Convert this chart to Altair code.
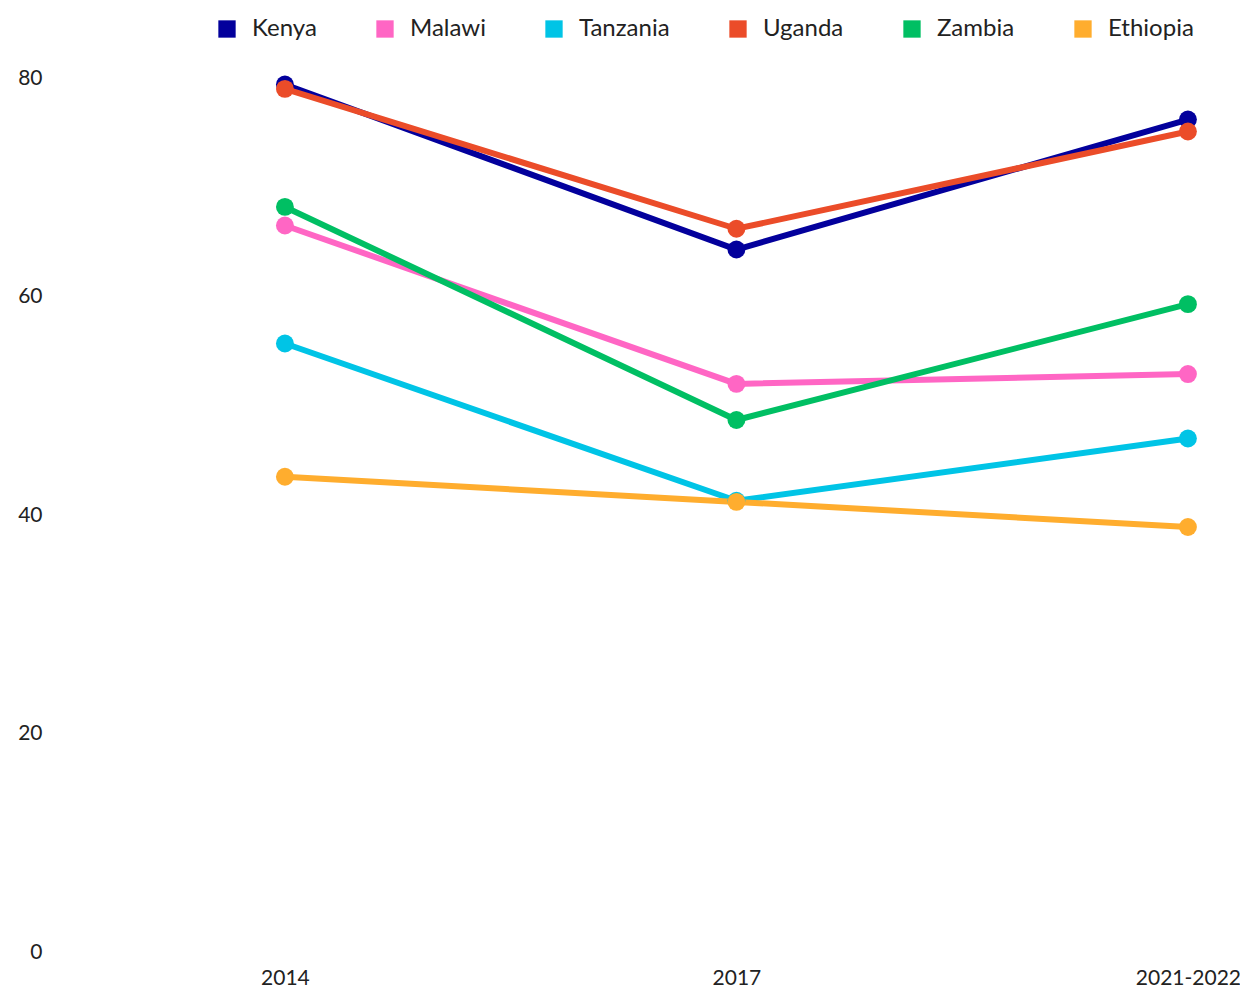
import altair as alt
import pandas as pd

countries = ["Kenya", "Malawi", "Tanzania", "Uganda", "Zambia", "Ethiopia"]
colors = ["#03009c", "#ff66c4", "#00c4e6", "#eb4c29", "#00bf63", "#ffad2e"]
periods = ["2014", "2017", "2021-2022"]
values = {
    "Kenya":    [79.4, 64.3, 76.2],
    "Malawi":   [66.5, 52.0, 52.9],
    "Tanzania": [55.7, 41.3, 47.0],
    "Uganda":   [79.0, 66.2, 75.1],
    "Zambia":   [68.2, 48.7, 59.3],
    "Ethiopia": [43.5, 41.2, 38.9],
}

rows = []
for i, c in enumerate(countries):
    for p, v in zip(periods, values[c]):
        rows.append({"country": c, "period": p, "value": v, "order": i})
df = pd.DataFrame(rows)

FONT = "Lato"

x = alt.X("period:N", sort=periods,
          scale=alt.Scale(type="point", padding=0.3134, align=0.816),
          axis=alt.Axis(title=None, labelAngle=0, domain=False, ticks=False,
                        grid=False, labelFontSize=21, labelPadding=15,
                        labelColor="#222222", labelFont=FONT))
y = alt.Y("value:Q", scale=alt.Scale(domain=[0, 80], nice=False),
          axis=alt.Axis(title=None, values=[0, 20, 40, 60, 80], domain=False,
                        ticks=False, grid=False, labelFontSize=21, labelPadding=12,
                        labelColor="#222222", labelFont=FONT))
color = alt.Color("country:N", sort=countries,
                  scale=alt.Scale(domain=countries, range=colors),
                  legend=alt.Legend(title=None, orient="none", direction="horizontal",
                                    legendX=161, legendY=-61, symbolType="square",
                                    symbolSize=300, symbolOpacity=1,
                                    symbolStrokeWidth=0,
                                    labelFontSize=24, labelFont=FONT,
                                    labelColor="#222222", labelOffset=13,
                                    columnPadding=56))

base = alt.Chart(df)
lines = base.mark_line(strokeWidth=6, strokeCap="round").encode(
    x=x, y=y, color=color, order=alt.Order("order:Q"))
points = base.mark_circle(size=320, opacity=1).encode(
    x=x, y=y, color=alt.Color("country:N", sort=countries,
                              scale=alt.Scale(domain=countries, range=colors),
                              legend=None),
    order=alt.Order("order:Q"))

chart = alt.layer(lines, points).properties(
    width=1186, height=874,
    padding={"left": 46, "top": 70, "right": 0, "bottom": 36},
    autosize=alt.AutoSizeParams(type="none"),
    background="white",
).configure_view(stroke=None)

chart.save("out.html", embed_options={"renderer": "svg", "actions": False})
